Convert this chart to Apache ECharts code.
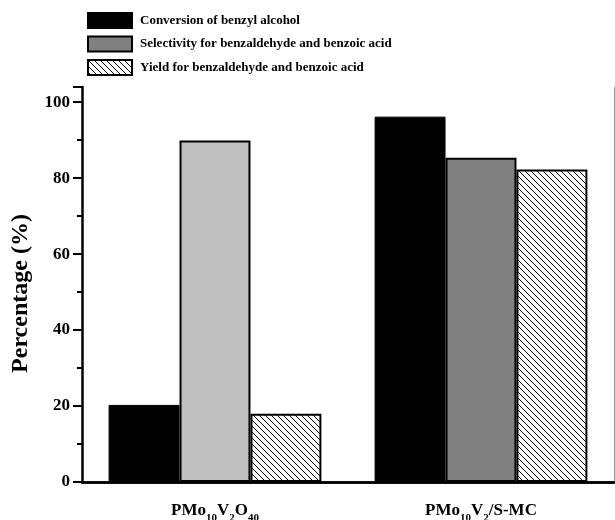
<!DOCTYPE html>
<html>
<head>
<meta charset="utf-8">
<script src="https://cdn.jsdelivr.net/npm/echarts@6/dist/echarts.min.js"></script>
<style>
  html, body { margin: 0; padding: 0; background: #fff; }
  #main { width: 615px; height: 520px; }
</style>
</head>
<body>
<div id="main"></div>
<script>
const categories = ['PMo10V2O40', 'PMo10V2/S-MC']
const seriesNames = [
  'Conversion of benzyl alcohol',
  'Selectivity for benzaldehyde and benzoic acid',
  'Yield for benzaldehyde and benzoic acid'
]
const conversion = [20.3, 96.2]
const selectivity = [89.9, 85.4]
const yieldValues = [18.0, 82.3]

// rich-text versions of the catalyst names (subscripts)
const richLabels = {
  'PMo10V2O40': '{a|PMo}{s|10}{a|V}{s|2}{a|O}{s|40}',
  'PMo10V2/S-MC': '{a|PMo}{s|10}{a|V}{s|2}{a|/S-MC}'
}

// diagonal hatch pattern
function hatch() {
  const size = 6
  const c = document.createElement('canvas')
  c.width = size
  c.height = size
  const ctx = c.getContext('2d')
  ctx.fillStyle = '#fff'
  ctx.fillRect(0, 0, size, size)
  ctx.strokeStyle = '#000'
  ctx.lineWidth = 1
  for (let k = -size; k <= size; k += size) {
    ctx.beginPath()
    ctx.moveTo(k, 0)
    ctx.lineTo(k + size, size)
    ctx.stroke()
  }
  return c
}

const font = 'Liberation Serif'
// the first catalyst's selectivity bar is light grey, the second one dark grey
const selectivityColors = ['#c0c0c0', '#808080']

const chart = echarts.init(document.getElementById('main'))
chart.setOption({
  animation: false,
  textStyle: { fontFamily: font },
  legend: {
    orient: 'vertical',
    left: 82,
    top: 7,
    icon: 'rect',
    itemWidth: 44,
    itemHeight: 15,
    itemGap: 6.5,
    textStyle: { fontFamily: font, fontWeight: 'bold', fontSize: 13, color: '#000', padding: [0, 0, 0, 3] },
    data: seriesNames
  },
  grid: { left: 82, top: 87, right: 1, bottom: 38, outerBoundsMode: 'none' },
  xAxis: [{
    type: 'category',
    data: categories,
    axisLine: { lineStyle: { color: '#000', width: 2.5 } },
    axisTick: { show: false },
    axisLabel: {
      margin: 20,
      formatter: v => richLabels[v],
      rich: {
        a: { fontFamily: font, fontWeight: 'bold', fontSize: 17, color: '#000', verticalAlign: 'bottom', padding: [0, 0, 5, 0] },
        s: { fontFamily: font, fontWeight: 'bold', fontSize: 11, color: '#000', verticalAlign: 'bottom' }
      }
    }
  }, {
    type: 'category',
    position: 'top',
    data: categories,
    axisLine: { lineStyle: { color: '#000', width: 2.5 } },
    axisTick: { show: false },
    axisLabel: { show: false }
  }],
  yAxis: [{
    type: 'value',
    min: 0,
    max: 104,
    interval: 20,
    name: 'Percentage (%)',
    nameLocation: 'middle',
    nameGap: 49,
    nameTextStyle: { fontFamily: font, fontWeight: 'bold', fontSize: 24, color: '#000', padding: [0, 18, 0, 0] },
    axisLine: { show: true, lineStyle: { color: '#000', width: 2.5 } },
    axisTick: { show: true, inside: false, length: 9, lineStyle: { color: '#000', width: 2 } },
    minorTick: { show: true, splitNumber: 2, length: 5, lineStyle: { color: '#000', width: 2 } },
    splitLine: { show: false },
    axisLabel: {
      margin: 12,
      fontFamily: font,
      fontWeight: 'bold',
      fontSize: 17,
      color: '#000',
      formatter: v => (v % 20 === 0 ? v : '')
    }
  }, {
    type: 'value',
    position: 'right',
    min: 0,
    max: 104,
    axisLine: { show: true, lineStyle: { color: '#999', width: 1 } },
    axisTick: { show: false },
    axisLabel: { show: false },
    splitLine: { show: false }
  }],
  series: [{
    name: seriesNames[0],
    type: 'bar',
    data: conversion,
    barGap: '0%',
    barCategoryGap: '20%',
    itemStyle: { color: '#000', borderColor: '#000', borderWidth: 1 }
  }, {
    name: seriesNames[1],
    type: 'bar',
    data: selectivity.map((v, i) => ({ value: v, itemStyle: { color: selectivityColors[i] } })),
    barGap: '0%',
    barCategoryGap: '20%',
    itemStyle: { color: '#808080', borderColor: '#000', borderWidth: 2 }
  }, {
    name: seriesNames[2],
    type: 'bar',
    data: yieldValues,
    barGap: '0%',
    barCategoryGap: '20%',
    itemStyle: { color: { image: hatch(), repeat: 'repeat' }, borderColor: '#000', borderWidth: 2 }
  }]
})
</script>
</body>
</html>
